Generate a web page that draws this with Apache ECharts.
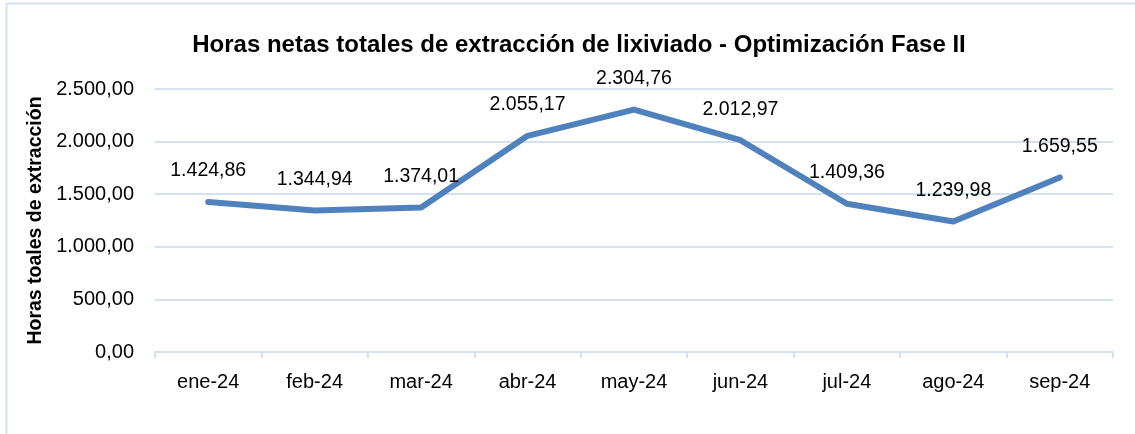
<!DOCTYPE html>
<html>
<head>
    <meta charset="utf-8">
    <title>Horas netas</title>
    <script src="https://cdn.jsdelivr.net/npm/echarts@6/dist/echarts.min.js"></script>
    <style>
        html, body { margin: 0; padding: 0; background: #fff; }
        #main { width: 1135px; height: 434px; }
    </style>
</head>
<body>
    <div id="main"></div>
    <script type="text/javascript">
    var months = ['ene-24', 'feb-24', 'mar-24', 'abr-24', 'may-24', 'jun-24', 'jul-24', 'ago-24', 'sep-24'];
    var horas = [1424.86, 1344.94, 1374.01, 2055.17, 2304.76, 2012.97, 1409.36, 1239.98, 1659.55];

    // formato es-ES: 1.234,56
    function fmt(v) {
        var parts = v.toFixed(2).split('.');
        var ent = parts[0].replace(/\B(?=(\d{3})+(?!\d))/g, '.');
        return ent + ',' + parts[1];
    }

    var myChart = echarts.init(document.getElementById('main'));
    var font = 'Liberation Sans, Arial, sans-serif';
    var option = {
        animation: false,
        textStyle: { fontFamily: font },
        title: {
            text: 'Horas netas totales de extracción de lixiviado - Optimización Fase II',
            left: 574,
            textAlign: 'center',
            top: 28,
            textStyle: { fontFamily: font, fontSize: 24, fontWeight: 'bold', color: '#000' }
        },
        graphic: [{
            type: 'rect',
            shape: { x: 6.5, y: 3.5, width: 1140, height: 440 },
            style: { fill: 'none', stroke: '#d6e1ef', lineWidth: 2 },
            silent: true
        }],
        grid: { left: 155, right: 22, top: 89, bottom: 82 },
        xAxis: {
            type: 'category',
            data: months,
            boundaryGap: true,
            axisLine: { lineStyle: { color: '#d6e1ef', width: 2 } },
            axisTick: { show: true, length: 6, lineStyle: { color: '#d6e1ef', width: 2 } },
            axisLabel: { color: '#000', fontSize: 20, margin: 20, fontFamily: font }
        },
        yAxis: {
            type: 'value',
            min: 0,
            max: 2500,
            interval: 500,
            name: 'Horas toales de extracción',
            nameLocation: 'center',
            nameGap: 108,
            nameTextStyle: { color: '#000', fontSize: 19.5, fontWeight: 'bold', fontFamily: font },
            axisLine: { show: false },
            axisTick: { show: false },
            splitLine: { lineStyle: { color: '#d6e1ef', width: 2 } },
            axisLabel: {
                color: '#000', fontSize: 20, margin: 21, fontFamily: font,
                formatter: function (v) { return fmt(v); }
            }
        },
        series: [{
            type: 'line',
            data: horas,
            symbol: 'circle',
            symbolSize: 2,
            showSymbol: true,
            itemStyle: { color: 'rgba(0,0,0,0)', borderWidth: 0 },
            lineStyle: { color: '#4f81bd', width: 6, cap: 'round', join: 'round' },
            label: {
                show: true,
                position: 'top',
                distance: 20,
                color: '#000',
                fontSize: 19.5,
                fontFamily: font,
                formatter: function (p) { return fmt(p.value); }
            }
        }]
    };
    myChart.setOption(option);
    </script>
</body>
</html>
